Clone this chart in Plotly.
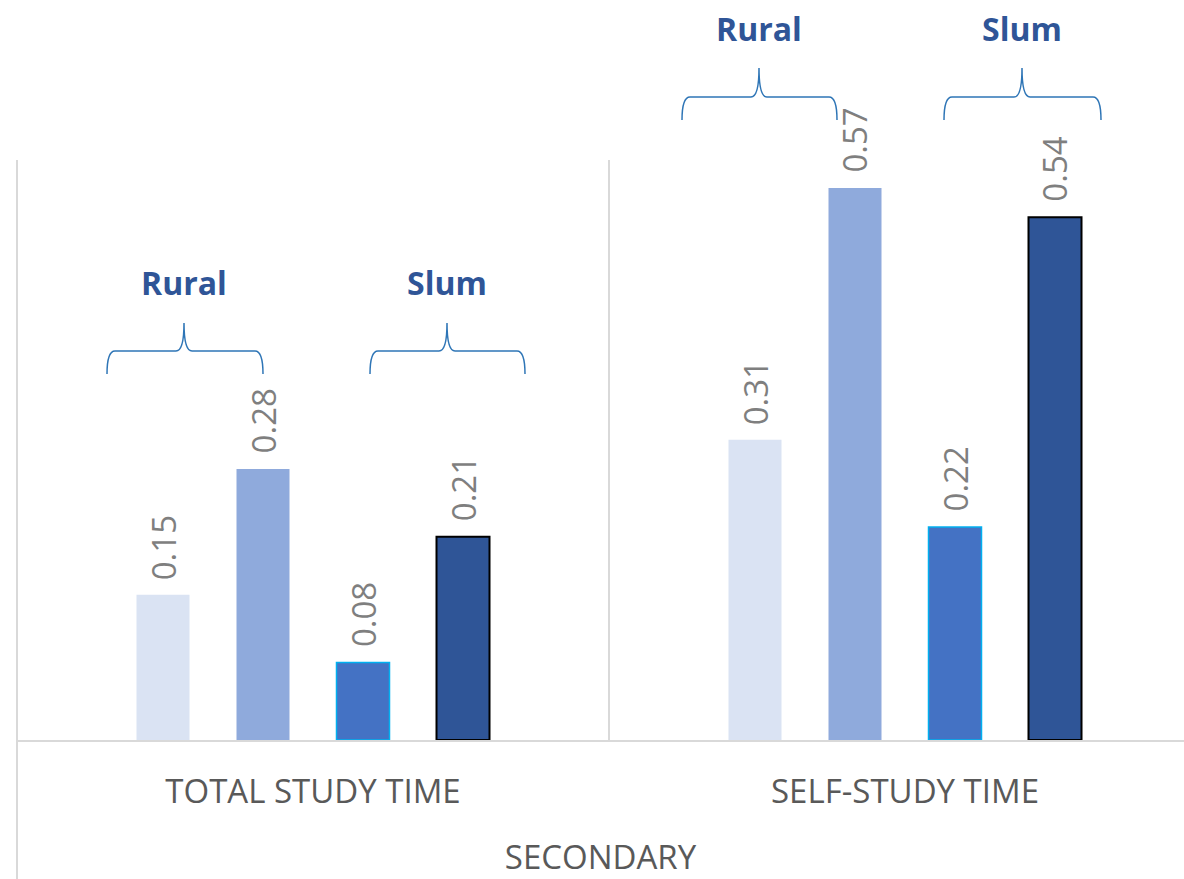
import plotly.graph_objects as go

categories = ["TOTAL STUDY TIME", "SELF-STUDY TIME"]
series_names = ["Rural A", "Rural B", "Slum A", "Slum B"]
rural_a = [0.15, 0.31]
rural_b = [0.28, 0.57]
slum_a = [0.08, 0.22]
slum_b = [0.21, 0.54]
group_labels = ["Rural", "Slum"]
axis_title = "SECONDARY"

series_values = [rural_a, rural_b, slum_a, slum_b]
fills = ["#DAE3F3", "#8FAADC", "#4472C4", "#2F5597"]
outlines = ["#DAE3F3", "#8FAADC", "#00B0F0", "#000000"]
outline_w = [0, 0, 1.5, 2]

W, H = 1184, 879
ML, MR, MT, MB = 17, 0, 160, 139
BARGAP = 0.3243
BARGROUPGAP = 0.47
XRANGE = [-0.5, -0.5 + (W - ML - MR) / 592.0]
YRANGE = [0, 0.599]

fig = go.Figure()
xs = [0, 1]
for name, vals, fc, lc, lw in zip(series_names, series_values, fills, outlines, outline_w):
    fig.add_trace(go.Bar(
        x=xs, y=vals, name=name,
        marker=dict(color=fc, line=dict(color=lc, width=lw)),
        showlegend=False, hoverinfo="y",
    ))

# value labels
slot = (1 - BARGAP) / 4
annotations = []
for i, vals in enumerate(series_values):
    off = (i - 1.5) * slot
    for ci, v in enumerate(vals):
        annotations.append(dict(
            x=ci + off, y=v, xref="x", yref="y",
            text=f"{v:.2f}", textangle=-90, showarrow=False,
            xanchor="center", yanchor="bottom", yshift=13,
            font=dict(family="Open Sans", size=33, color="#7F7F7F"),
        ))

# helpers to convert pixel to paper
pw = W - ML - MR
ph = H - MT - MB
def px(x):
    return (x - ML) / pw
def py(y):
    return (H - MB - y) / ph

# group labels and braces (positions in pixels)
brace_specs = [
    # (label, x_left, x_right, x_tip, y_horiz, y_end, y_tip, label_y)
    ("Rural", 107, 263, 184, 351, 374, 323, 282),
    ("Slum", 370, 525, 447, 351, 374, 323, 282),
    ("Rural", 682, 837, 759, 97, 120, 68, 28),
    ("Slum", 944, 1101, 1022, 97, 120, 68, 28),
]
shapes = []
r = 8
for lab, xl, xr, xt, yh, ye, yt, ly in brace_specs:
    path = (
        f"M {px(xl)},{py(ye)} "
        f"Q {px(xl)},{py(yh)} {px(xl + r)},{py(yh)} "
        f"L {px(xt - r)},{py(yh)} "
        f"Q {px(xt)},{py(yh)} {px(xt)},{py(yt)} "
        f"Q {px(xt)},{py(yh)} {px(xt + r)},{py(yh)} "
        f"L {px(xr - r)},{py(yh)} "
        f"Q {px(xr)},{py(yh)} {px(xr)},{py(ye)}"
    )
    shapes.append(dict(type="path", xref="paper", yref="paper", path=path,
                       line=dict(color="#2E75B6", width=1.5)))
    annotations.append(dict(
        x=px(xt), y=py(ly), xref="paper", yref="paper", text=f"<b>{lab}</b>",
        showarrow=False, xanchor="center", yanchor="middle",
        font=dict(family="Open Sans", size=32, color="#2F5597"),
    ))

# divider lines
shapes.append(dict(type="line", xref="paper", yref="paper", x0=0, x1=0,
                   y0=py(H), y1=1, line=dict(color="#D9D9D9", width=2)))
shapes.append(dict(type="line", xref="x", yref="paper", x0=0.5, x1=0.5,
                   y0=0, y1=1, line=dict(color="#D9D9D9", width=2)))

fig.update_layout(
    width=W, height=H,
    margin=dict(l=ML, r=MR, t=MT, b=MB, pad=0),
    paper_bgcolor="white", plot_bgcolor="white",
    barmode="group", bargap=BARGAP, bargroupgap=BARGROUPGAP,
    shapes=shapes, annotations=annotations,
    xaxis=dict(
        range=XRANGE, tickmode="array", tickvals=xs, ticktext=categories,
        showgrid=False, zeroline=False, showline=True, linecolor="#D9D9D9",
        linewidth=2, ticks="", ticklabelstandoff=21,
        tickfont=dict(family="Open Sans", size=33, color="#595959"),
        title=dict(text=axis_title, standoff=40,
                   font=dict(family="Open Sans", size=33, color="#595959")),
    ),
    yaxis=dict(range=YRANGE, visible=False, showgrid=False, zeroline=False),
)

fig.write_html("out.html")
